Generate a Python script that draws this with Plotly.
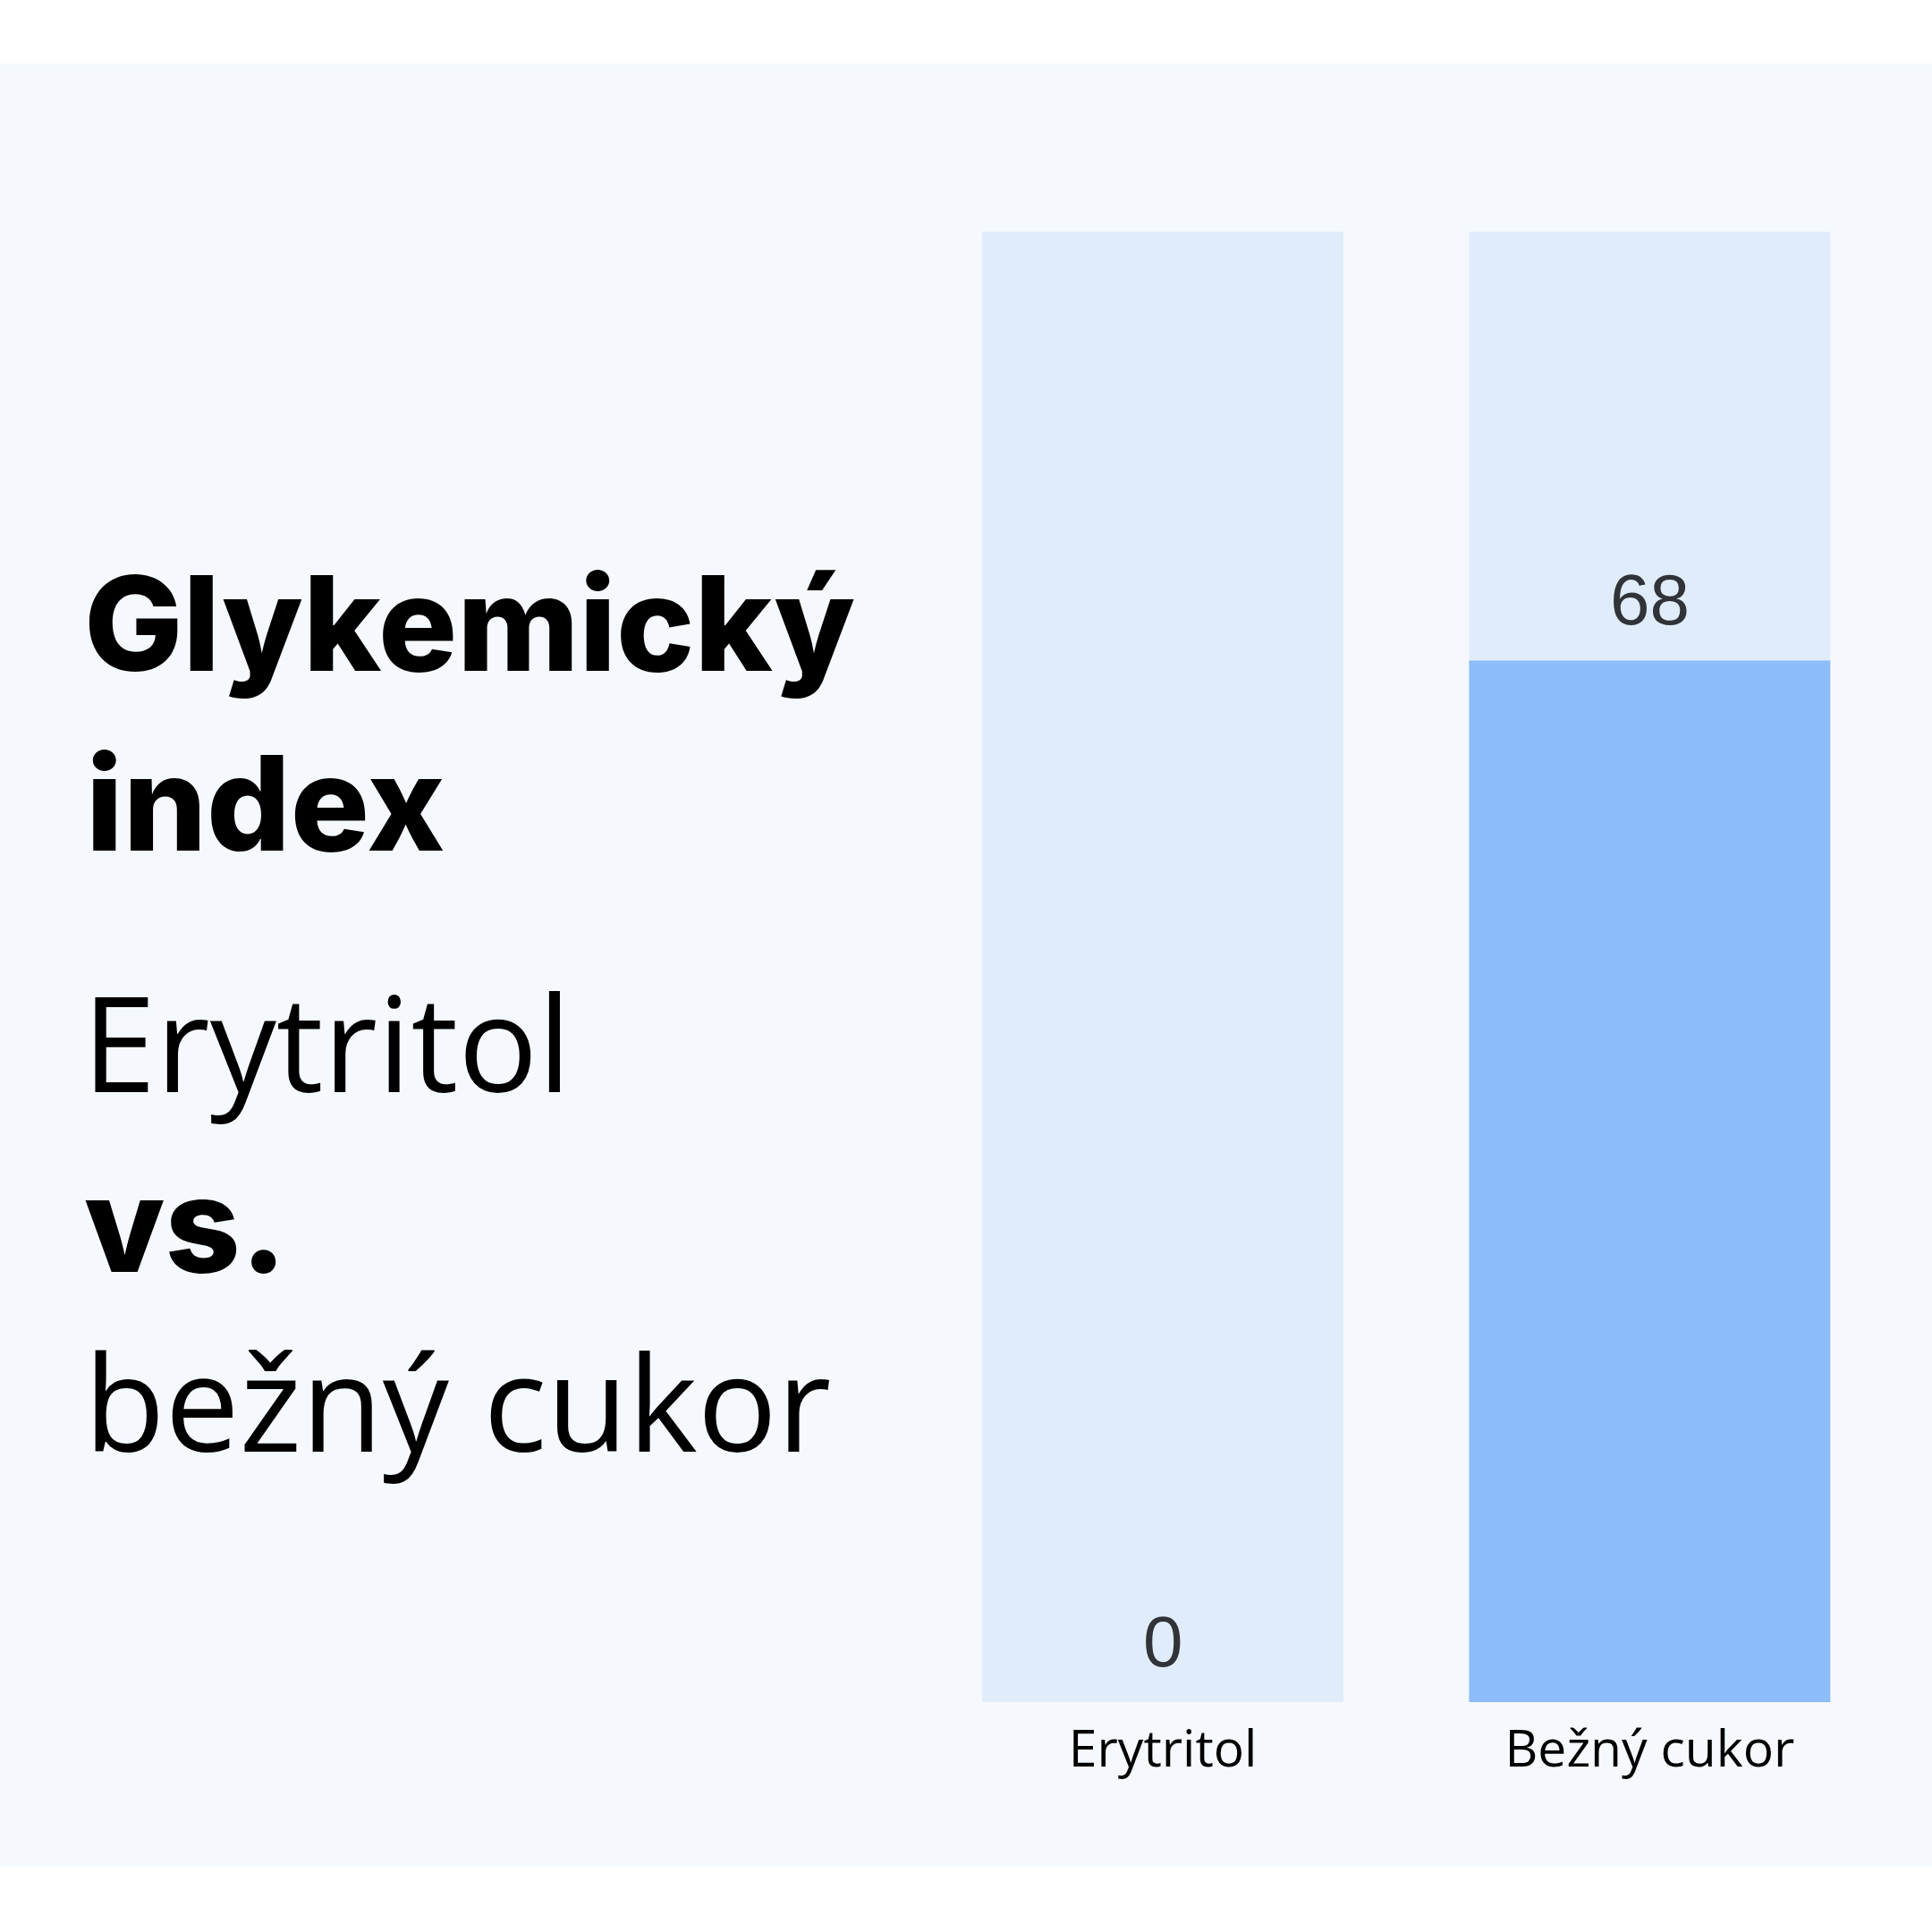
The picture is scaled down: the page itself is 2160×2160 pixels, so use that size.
import plotly.graph_objects as go

# ---- data ----
categories = ["Erytritol", "Bežný cukor"]
gi_values = [0, 68]
scale_max = 96  # full height of the background track
value_labels = ["0", "68"]
title_lines = ["Glykemický", "index", "Erytritol", "vs.", "bežný cukor"]
title_bold = [True, True, False, True, False]

W = H = 2160
BG_PANEL = "#f5f9fd"
TRACK = "#e0ecf9"
BLUE = "#8dbdf8"

fig = go.Figure()
# background tracks
fig.add_trace(go.Bar(x=categories, y=[scale_max] * len(categories),
                     marker=dict(color=TRACK, line=dict(width=0)),
                     hoverinfo="skip", showlegend=False))
# values
fig.add_trace(go.Bar(x=categories, y=gi_values,
                     marker=dict(color=BLUE, line=dict(width=0)),
                     showlegend=False))

# value labels
for c, v, t in zip(categories, gi_values, value_labels):
    fig.add_annotation(x=c, y=v, xref="x", yref="y", text=t, showarrow=False,
                       yanchor="bottom", yshift=21,
                       font=dict(family="Liberation Sans", size=80, color="#303338"))

def px_x(p):
    return p / W

def px_y(p):
    return 1 - p / H

# title text lines: (left px, baseline px)
line_pos = [(92, 745), (94, 946), (90, 1212), (92, 1417), (92, 1614)]
for txt, bold, (lx, base) in zip(title_lines, title_bold, line_pos):
    if bold:
        size = 147
        font = dict(family="Inter", size=size, color="#000000", weight=800)
    else:
        size = 148
        font = dict(family="Open Sans", size=size, color="#000000", weight=400)
    fig.add_annotation(x=px_x(lx), y=px_y(base - 0.33 * size), xref="paper", yref="paper",
                       text=txt, showarrow=False, xanchor="left", yanchor="middle",
                       font=font)

# light panel background
fig.add_shape(type="rect", xref="paper", yref="paper",
              x0=0, x1=1, y0=px_y(2087), y1=px_y(71),
              fillcolor=BG_PANEL, line=dict(width=0), layer="below")

fig.update_layout(
    width=W, height=H,
    margin=dict(l=0, r=0, t=0, b=0),
    paper_bgcolor="#ffffff",
    plot_bgcolor="rgba(0,0,0,0)",
    barmode="overlay",
    bargap=0.258,
    xaxis=dict(domain=[px_x(1028), px_x(2116.5)], range=[-0.5, 1.5],
               showgrid=False, zeroline=False, showline=False, ticks="",
               ticklabelstandoff=14,
               tickfont=dict(family="Open Sans", size=57, color="#000000")),
    yaxis=dict(domain=[px_y(1903), px_y(259)], range=[0, scale_max],
               showgrid=False, zeroline=False, showline=False,
               showticklabels=False, ticks=""),
)

fig.write_html("out.html", config={"displayModeBar": False},
               post_script="document.body.style.margin='0';document.body.style.overflow='hidden';")
